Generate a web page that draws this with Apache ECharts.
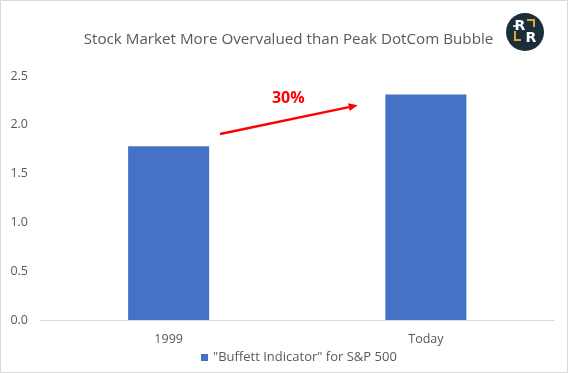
<!DOCTYPE html>
<html><head><meta charset="utf-8">
<script src="https://cdn.jsdelivr.net/npm/echarts@6/dist/echarts.min.js"></script>
<style>html,body{margin:0;padding:0;background:#fff}#c{width:568px;height:373px}</style>
</head><body><div id="c"></div>
<script>
const categories = ['1999', 'Today'];
const seriesName = '"Buffett Indicator" for S&P 500';
const values = [1.78, 2.31];
const yTicks = [0, 0.5, 1.0, 1.5, 2.0, 2.5];
const titleText = 'Stock Market More Overvalued than Peak DotCom Bubble';
const annotationText = '30%';
// arrow endpoints: [fraction between category 0 and 1, y value]
const arrowFrom = [0.2, 1.905];
const arrowTo = [0.735, 2.20];
const labelAt = [0.465, 2.27];

const chart = echarts.init(document.getElementById('c'), null, {renderer: 'canvas'});
const font = 'Open Sans';
const option = {
  animation: false,
  title: {text: titleText, left: 283.5, top: 27, textAlign: 'center',
    textStyle: {fontFamily: font, fontSize: 15.2, fontWeight: 'normal', color: '#595959'}},
  grid: {left: 40, right: 13.5, top: 76, bottom: 53},
  legend: {data: [seriesName], bottom: 4, left: 196, itemWidth: 7, itemHeight: 7, icon: 'rect',
    itemGap: 5, textStyle: {fontFamily: font, fontSize: 13, color: '#595959'}},
  xAxis: {type: 'category', data: categories,
    axisLine: {lineStyle: {color: '#d9d9d9'}}, axisTick: {show: false},
    axisLabel: {fontFamily: font, fontSize: 12.5, color: '#595959', margin: 13}},
  yAxis: {type: 'value', min: 0, max: yTicks[yTicks.length-1], interval: 0.5,
    splitLine: {show: false}, axisLine: {show: false}, axisTick: {show: false},
    axisLabel: {fontFamily: font, fontSize: 12.5, color: '#595959', margin: 12,
      formatter: v => v.toFixed(1)}},
  series: [{name: seriesName, type: 'bar', data: values, barWidth: '31.5%',
    itemStyle: {color: '#4472C4'}}]
};
chart.setOption(option);

const c0 = chart.convertToPixel({gridIndex: 0}, [0, 0]);
const c1 = chart.convertToPixel({gridIndex: 0}, [1, 0]);
function px(p) {
  const y = chart.convertToPixel({yAxisIndex: 0}, p[1]);
  return [c0[0] + (c1[0] - c0[0]) * p[0], y];
}
const p1 = px(arrowFrom), p2 = px(arrowTo), pl = px(labelAt);
const ang = Math.atan2(p2[1]-p1[1], p2[0]-p1[0]);
const hl = 9, hw = 4;
const bx = p2[0] - hl*Math.cos(ang), by = p2[1] - hl*Math.sin(ang);
const head = [[p2[0], p2[1]],
  [bx + hw*Math.sin(ang), by - hw*Math.cos(ang)],
  [bx - hw*Math.sin(ang), by + hw*Math.cos(ang)]];

const gold = '#d9a835';
chart.setOption({graphic: [
  {type: 'rect', shape: {x: 0.5, y: 0.5, width: 567, height: 372}, style: {fill: 'none', stroke: '#d9d9d9', lineWidth: 1}, z: 100},
  {type: 'line', shape: {x1: p1[0], y1: p1[1], x2: bx, y2: by}, style: {stroke: '#ff0000', lineWidth: 2.5}, z: 50},
  {type: 'polygon', shape: {points: head}, style: {fill: '#ff0000'}, z: 50},
  {type: 'text', x: pl[0], y: pl[1], style: {text: annotationText, fill: '#ff0000', font: 'bold 16px "Open Sans"', textAlign: 'center', textVerticalAlign: 'middle'}, z: 50},
  {type: 'group', x: 525, y: 32, z: 60, children: [
    {type: 'circle', shape: {cx: 0, cy: 0, r: 19}, style: {fill: '#1b2e3c'}},
    {type: 'text', x: -5, y: -6, style: {text: 'R', fill: '#fff', font: 'bold 14px "DejaVu Sans"', textAlign: 'center', textVerticalAlign: 'middle'}},
    {type: 'text', x: 6, y: 6, style: {text: 'R', fill: '#fff', font: 'bold 14px "DejaVu Sans"', textAlign: 'center', textVerticalAlign: 'middle'}},
    {type: 'line', shape: {x1: -12, y1: -6, x2: -9, y2: -6}, style: {stroke: '#fff', lineWidth: 1.5}},
    {type: 'polyline', shape: {points: [[2, -12], [9, -12], [9, -5]]}, style: {stroke: gold, lineWidth: 2, fill: 'none'}},
    {type: 'polyline', shape: {points: [[-10, -1], [-10, 8], [-4, 8]]}, style: {stroke: gold, lineWidth: 2, fill: 'none'}}
  ]}
]});
</script></body></html>
